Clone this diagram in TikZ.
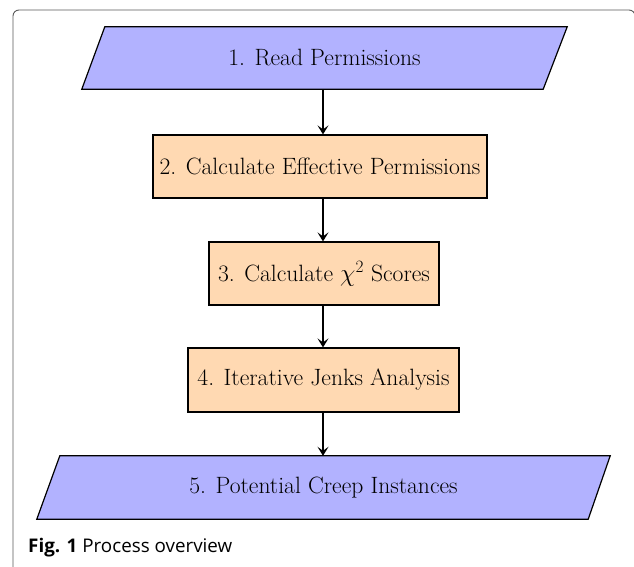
\documentclass[tikz,border=0pt]{standalone}
\usepackage{fontspec}
\newfontfamily\capfont{Open Sans}
\usetikzlibrary{arrows.meta}
\begin{document}
\begin{tikzpicture}[x=1pt,y=-1pt,
  io/.style={rectangle, draw=none, inner sep=0pt, font=\fontsize{23.6}{28}\selectfont},
  iobox/.style={draw=black, line width=1.2pt, fill=blue!30, line join=miter},
  proc/.style={rectangle, draw=black, line width=1.2pt, fill=orange!30, inner sep=0pt, font=\fontsize{23.6}{28}\selectfont},
  flow/.style={-{Stealth[length=9pt,width=11pt,inset=4pt]}, line width=2pt}]
\useasboundingbox (0,0) rectangle (634,567);
\draw[gray!70!black, line width=0.9pt, rounded corners=6pt] (13,567) -- (13,10) -- (635,10) -- (635,30);
\node[io, minimum width=485pt, minimum height=62pt] (n1) at (324.5,58) {};
\filldraw[iobox] (n1.south west) -- ([xshift=23pt]n1.north west) -- (n1.north east) -- ([xshift=-24pt]n1.south east) -- cycle;
\node[io] (t1) at (n1.center) {1. Read Permissions};
\node[proc, minimum width=334pt, minimum height=63pt] (n2) at (320,166.5) {2. Calculate Effective Permissions};
\node[proc, minimum width=230pt, minimum height=63pt] (n3) at (324,273.5) {3. Calculate $\chi^2$ Scores};
\node[proc, minimum width=271pt, minimum height=64pt] (n4) at (323.5,380) {4. Iterative Jenks Analysis};
\node[io, minimum width=573pt, minimum height=63pt] (n5) at (323.5,487.5) {};
\filldraw[iobox] (n5.south west) -- ([xshift=23pt]n5.north west) -- (n5.north east) -- ([xshift=-22pt]n5.south east) -- cycle;
\node[io] (t5) at (n5.center) {5. Potential Creep Instances};
\draw[flow] (n1.south -| 323,0) -- (n2.north -| 323,0);
\draw[flow] (n2.south -| 323,0) -- (n3.north -| 323,0);
\draw[flow] (n3.south -| 323,0) -- (n4.north -| 323,0);
\draw[flow] (n4.south -| 323,0) -- (n5.north -| 323,0);
\node[anchor=base west, inner sep=0pt, font=\capfont\fontsize{18.8}{21}\selectfont] (cap) at (28,552) {\textbf{Fig. 1} Process overview};
\end{tikzpicture}
\end{document}
